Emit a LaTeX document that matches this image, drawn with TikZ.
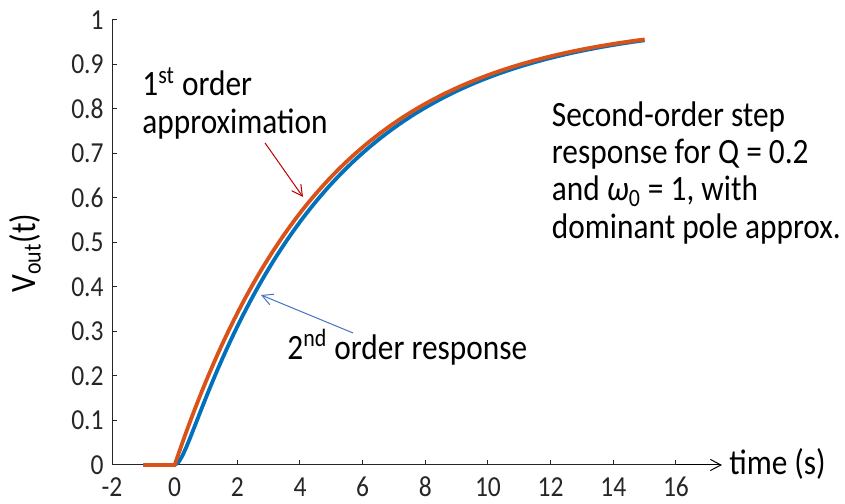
\documentclass[tikz,border=0pt]{standalone}
\usepackage{fontspec}
\setmainfont{Carlito}[FakeStretch=0.88]
\usetikzlibrary{arrows.meta}
\definecolor{axisgray}{RGB}{38,38,38}
\definecolor{matblue}{RGB}{0,114,189}
\definecolor{matorange}{RGB}{217,83,25}
\definecolor{notered}{RGB}{192,0,0}
\definecolor{noteblue}{RGB}{68,114,196}

\begin{document}
\begin{tikzpicture}[x=15.665pt,y=222.5pt,
  >={Straight Barb[length=5.3pt,width=5.6pt]},
  ticklab/.style={font=\fontsize{14.5}{16}\selectfont,text=axisgray,inner sep=0pt},
  note/.style={font=\fontsize{17.8}{18.7}\selectfont,inner sep=0pt,align=left},
  resp/.style={line width=1.9pt,line join=round}]
\useasboundingbox (-5.575,-0.0876) rectangle (21.396,1.0449);
% axes
\draw[axisgray,line width=0.5pt] (-2,1) -- (-2,0) -- (16,0);
\foreach \v [count=\i] in {0,0.1,0.2,0.3,0.4,0.5,0.6,0.7,0.8,0.9,1} {
  \draw[axisgray,line width=0.5pt] (-2,\v) -- ++(2.5pt,0);
  \node[ticklab,anchor=east,xshift=-4pt] (yl\i) at (-2,\v) {\v};
}
\foreach \t [count=\j] in {-2,0,2,...,16} {
  \draw[axisgray,line width=0.5pt] (\t,0) -- ++(0,2.5pt);
  \node[ticklab,anchor=base,yshift=-16pt] (xl\j) at (\t,0) {\t};
}
\node[note,rotate=90] (ylab) at (-4.777,0.476) {V\textsubscript{out}(t)};
\coordinate (xend) at (16,0);
\coordinate (xtip) at (17.47,0);
\draw[->,black,line width=0.5pt] (xend) -- (xtip);
\node[note,anchor=base west] (time) at (17.69,-0.0225) {time (s)};
% responses
\draw[resp,matblue] (-1,0) -- plot[domain=0:15,samples=120]
  (\x,{1-(4.79129*exp(-0.20871*\x)-0.20871*exp(-4.79129*\x))/4.58258});
\draw[resp,matorange] (-1,0) -- plot[domain=0:15,samples=120]
  (\x,{1-exp(-0.20871*\x)});
% notes (base = last line)
\node[note,anchor=base west] (first) at (-1.042,0.746) {1\textsuperscript{st} order\\approximation};
\node[note,anchor=base west] (second) at (3.587,0.2375) {2\textsuperscript{nd} order response};
\node[note,anchor=base west] (caption) at (12.03,0.5094)
  {Second-order step\\response for Q = 0.2\\and {\itshape ω}\textsubscript{0} = 1, with\\dominant pole approx.};
\coordinate (r1) at (2.885,0.7236);
\coordinate (r2) at (4.096,0.6022);
\draw[->,notered,line width=0.5pt] (r1) -- (r2);
\coordinate (b1) at (5.693,0.2966);
\coordinate (b2) at (2.756,0.382);
\draw[->,noteblue,line width=0.5pt] (b1) -- (b2);
\end{tikzpicture}
\end{document}
